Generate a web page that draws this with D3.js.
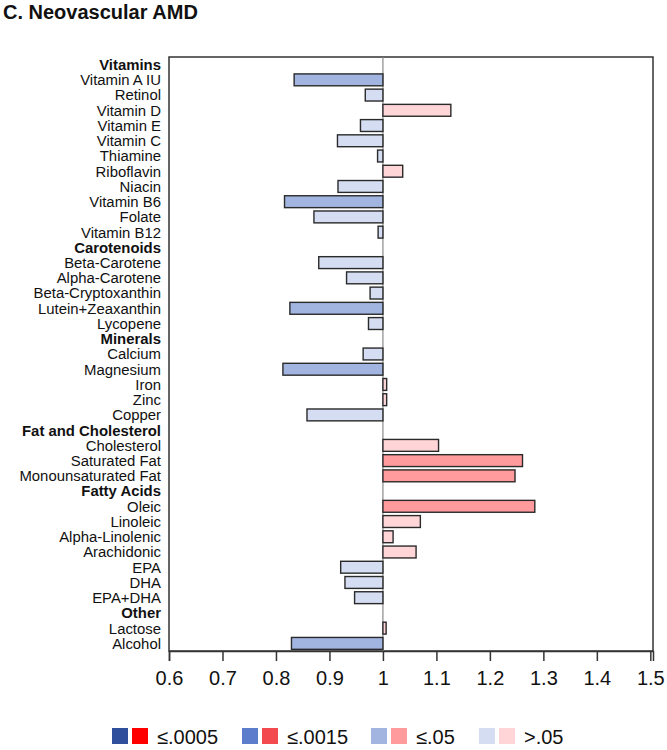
<!DOCTYPE html>
<html>
<head>
<meta charset="utf-8">
<script src="https://cdn.jsdelivr.net/npm/d3@7"></script>
<style>
  html, body { margin: 0; padding: 0; background: #fff; }
  svg text { font-family: "Liberation Sans", Arial, sans-serif; }
</style>
</head>
<body>
<svg id="chart" width="667" height="750"></svg>
<script>
// ---- data ----
const title = "C. Neovascular AMD";
const categories = [
  "Vitamins", "Vitamin A IU", "Retinol", "Vitamin D", "Vitamin E", "Vitamin C", "Thiamine",
  "Riboflavin", "Niacin", "Vitamin B6", "Folate", "Vitamin B12",
  "Carotenoids", "Beta-Carotene", "Alpha-Carotene", "Beta-Cryptoxanthin", "Lutein+Zeaxanthin", "Lycopene",
  "Minerals", "Calcium", "Magnesium", "Iron", "Zinc", "Copper",
  "Fat and Cholesterol", "Cholesterol", "Saturated Fat", "Monounsaturated Fat",
  "Fatty Acids", "Oleic", "Linoleic", "Alpha-Linolenic", "Arachidonic", "EPA", "DHA", "EPA+DHA",
  "Other", "Lactose", "Alcohol"
];
const headers = ["Vitamins", "Carotenoids", "Minerals", "Fat and Cholesterol", "Fatty Acids", "Other"];
// odds ratios (null for group headers)
const values = [
  null, 0.834, 0.967, 1.127, 0.958, 0.915, 0.990,
  1.037, 0.916, 0.816, 0.871, 0.991,
  null, 0.880, 0.932, 0.976, 0.826, 0.973,
  null, 0.963, 0.813, 1.007, 1.007, 0.858,
  null, 1.104, 1.261, 1.247,
  null, 1.284, 1.070, 1.019, 1.062, 0.921, 0.929, 0.947,
  null, 1.006, 0.829
];
// p-value class: 0 = ≤.0005, 1 = ≤.0015, 2 = ≤.05, 3 = >.05
const pClass = [
  null, 2, 3, 3, 3, 3, 3,
  3, 3, 2, 3, 3,
  null, 3, 3, 3, 2, 3,
  null, 3, 2, 3, 3, 3,
  null, 3, 2, 2,
  null, 2, 3, 3, 3, 3, 3, 3,
  null, 3, 2
];
const xTicks = [0.6, 0.7, 0.8, 0.9, 1.0, 1.1, 1.2, 1.3, 1.4, 1.5];
const xDomain = [0.6, 1.505];
const legendLabels = ["≤.0005", "≤.0015", "≤.05", ">.05"];
const blueColors = ["#2f4f9c", "#5b7dcb", "#a2b5e0", "#d4ddf1"];
const redColors  = ["#ff0000", "#f34a4f", "#ff9a9d", "#ffd5d8"];

// ---- layout ----
const svg = d3.select("#chart");
const plot = { left: 169, right: 653, top: 57, bottom: 651 };

const x = d3.scaleLinear().domain(xDomain).range([plot.left, plot.right]);
const y = d3.scaleBand().domain(categories).range([plot.top, plot.bottom]).padding(0);
const barH = y.bandwidth() * 0.78;

// title
svg.append("text")
  .attr("x", 3).attr("y", 19)
  .attr("font-size", 20).attr("font-weight", "bold").attr("fill", "#111")
  .text(title);

// frame
svg.append("rect")
  .attr("x", plot.left).attr("y", plot.top)
  .attr("width", plot.right - plot.left).attr("height", plot.bottom - plot.top)
  .attr("fill", "none").attr("stroke", "#333").attr("stroke-width", 1.5);

// reference line at 1
svg.append("line")
  .attr("x1", x(1)).attr("x2", x(1))
  .attr("y1", plot.top).attr("y2", plot.bottom)
  .attr("stroke", "#8a8a8a").attr("stroke-width", 1.2);

// bars
const rows = categories.map((c, i) => ({ cat: c, v: values[i], p: pClass[i] }));
svg.append("g").selectAll("rect")
  .data(rows.filter(d => d.v !== null))
  .join("rect")
  .attr("x", d => Math.min(x(d.v), x(1)))
  .attr("width", d => Math.abs(x(d.v) - x(1)))
  .attr("y", d => y(d.cat) + (y.bandwidth() - barH) / 2)
  .attr("height", barH)
  .attr("fill", d => d.v < 1 ? blueColors[d.p] : redColors[d.p])
  .attr("stroke", "#2a2a2a").attr("stroke-width", 1.4);

// row labels
svg.append("g").selectAll("text")
  .data(rows)
  .join("text")
  .attr("x", 161)
  .attr("y", d => y(d.cat) + y.bandwidth() / 2)
  .attr("dy", "0.36em")
  .attr("text-anchor", "end")
  .attr("font-size", 14.9)
  .attr("font-weight", d => headers.includes(d.cat) ? "bold" : "normal")
  .attr("fill", "#111")
  .text(d => d.cat);

// x axis
const xAxis = d3.axisBottom(x).tickValues(xTicks).tickSize(10).tickPadding(10)
  .tickFormat(d => d3.format("")(+d.toFixed(1)));
const gx = svg.append("g").attr("transform", `translate(0,${plot.bottom})`).call(xAxis);
gx.select(".domain").attr("stroke", "#333").attr("stroke-width", 1.5);
gx.selectAll(".tick line").attr("stroke", "#333").attr("stroke-width", 1.5);
gx.selectAll(".tick text").attr("font-size", 20).attr("fill", "#111")
  .attr("font-family", "Liberation Sans, Arial, sans-serif");

// legend
const legX = [112, 242, 371, 479];
const lg = svg.append("g");
legendLabels.forEach((lab, i) => {
  lg.append("rect").attr("x", legX[i]).attr("y", 728).attr("width", 16).attr("height", 16)
    .attr("fill", blueColors[i]);
  lg.append("rect").attr("x", legX[i] + 20).attr("y", 728).attr("width", 16).attr("height", 16)
    .attr("fill", redColors[i]);
  lg.append("text").attr("x", legX[i] + 45).attr("y", 743.5)
    .attr("font-size", 20).attr("fill", "#111").text(lab);
});
</script>
</body>
</html>
